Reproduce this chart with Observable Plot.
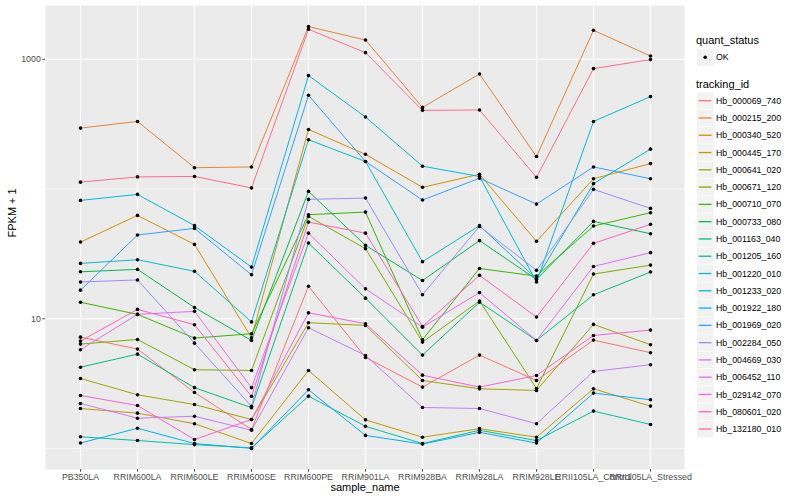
<!DOCTYPE html>
<html><head><meta charset="utf-8">
<script src="https://cdn.jsdelivr.net/npm/d3@7"></script>
<script src="https://cdn.jsdelivr.net/npm/@observablehq/plot@0.6"></script>
<style>
body{margin:0;background:#fff;font-family:"Liberation Sans",Arial,Helvetica,sans-serif;}
#wrap{position:relative;width:800px;height:500px;overflow:hidden;}
#legend{position:absolute;left:0;top:0;pointer-events:none;}
</style></head><body><div id="wrap"></div><script>
const samples = ["PB350LA","RRIM600LA","RRIM600LE","RRIM600SE","RRIM600PE","RRIM901LA","RRIM928BA","RRIM928LA","RRIM928LE","RRII105LA_Control","RRII105LA_Stressed"];
const ids = ["Hb_000069_740","Hb_000215_200","Hb_000340_520","Hb_000445_170","Hb_000641_020","Hb_000671_120","Hb_000710_070","Hb_000733_080","Hb_001163_040","Hb_001205_160","Hb_001220_010","Hb_001233_020","Hb_001922_180","Hb_001969_020","Hb_002284_050","Hb_004669_030","Hb_006452_110","Hb_029142_070","Hb_080601_020","Hb_132180_010"];
const colors = ["#F8766D","#EA8331","#D89000","#C09B00","#A3A500","#7CAE00","#39B600","#00BB4E","#00BF7D","#00C1A3","#00BFC4","#00BAE0","#00B0F6","#35A2FF","#9590FF","#C77CFF","#E76BF3","#FA62DB","#FF62BC","#FF6C91"];
const yTicks = [10, 1000];
const yMinor = [1, 100];
const quantStatus = ["OK"];

// FPKM + 1 per tracking_id, in sample order
const hb_000069_740 = [7.21, 5.83, 2.70, 1.40, 17.8, 5.03, 2.97, 5.24, 3.34, 6.84, 5.47];
const hb_000215_200 = [295, 332, 146, 148, 1788, 1409, 426, 770, 178, 1674, 1061];
const hb_000340_520 = [39.0, 62.6, 37.4, 7.14, 288, 185, 103, 130, 39.5, 120, 157];
const hb_000445_170 = [2.03, 1.87, 1.55, 1.09, 3.99, 1.66, 1.22, 1.42, 1.22, 2.88, 2.12];
const hb_000641_020 = [3.46, 2.59, 2.18, 1.67, 9.31, 8.88, 3.34, 2.88, 2.80, 9.04, 6.30];
const hb_000671_120 = [6.37, 6.92, 4.04, 3.99, 61.5, 34.7, 6.60, 13.7, 2.90, 22.1, 25.9];
const hb_000710_070 = [13.4, 10.8, 7.09, 7.66, 63.4, 66.4, 6.89, 24.4, 21.3, 51.8, 65.7];
const hb_000733_080 = [23.0, 24.0, 12.2, 6.80, 95.9, 36.8, 19.7, 40.0, 20.1, 56.3, 45.2];
const hb_001163_040 = [4.23, 5.33, 2.94, 2.06, 38.3, 14.4, 5.24, 13.4, 6.80, 15.3, 22.9];
const hb_001205_160 = [1.23, 1.15, 1.07, 1.01, 2.53, 1.48, 1.09, 1.38, 1.15, 1.94, 1.53];
const hb_001220_010 = [26.7, 28.5, 23.2, 9.45, 240, 163, 27.5, 52.2, 20.3, 110, 203];
const hb_001233_020 = [81.7, 90.9, 52.2, 25.0, 749, 359, 150, 125, 19.2, 332, 516];
const hb_001922_180 = [1.10, 1.43, 1.09, 1.00, 2.83, 1.26, 1.08, 1.33, 1.10, 2.67, 2.37];
const hb_001969_020 = [16.6, 44.2, 49.7, 21.8, 528, 163, 82.2, 121, 76.5, 148, 120];
const hb_002284_050 = [19.2, 19.9, 6.48, 2.11, 83.2, 85.2, 15.3, 51.5, 23.6, 99.4, 70.9];
const hb_004669_030 = [2.22, 1.71, 1.77, 1.38, 8.52, 5.21, 2.07, 2.03, 1.55, 3.92, 4.42];
const hb_006452_110 = [5.77, 10.8, 11.4, 2.94, 45.7, 17.0, 8.61, 15.9, 6.80, 25.3, 32.3];
const hb_029142_070 = [2.56, 2.14, 1.17, 1.67, 11.1, 9.15, 3.67, 2.97, 3.65, 7.43, 8.17];
const hb_080601_020 = [6.72, 11.8, 8.99, 2.52, 55.6, 45.7, 8.72, 21.6, 10.3, 38.1, 53.4];
const hb_132180_010 = [113, 124, 125, 102, 1704, 1126, 404, 407, 123, 848, 995];

const series = [hb_000069_740, hb_000215_200, hb_000340_520, hb_000445_170, hb_000641_020, hb_000671_120, hb_000710_070, hb_000733_080, hb_001163_040, hb_001205_160, hb_001220_010, hb_001233_020, hb_001922_180, hb_001969_020, hb_002284_050, hb_004669_030, hb_006452_110, hb_029142_070, hb_080601_020, hb_132180_010];

const data = ids.flatMap((id, i) => series[i].map((v, j) => ({id, sample: samples[j], value: v, status: quantStatus[0]})));

// ggplot-like 5% expansion in log space
const ext = d3.extent(data, d => Math.log10(d.value));
const pad = (ext[1] - ext[0]) * 0.05;
const yDomain = [10 ** (ext[0] - pad), 10 ** (ext[1] + pad)];

const font = '"Liberation Sans", Arial, Helvetica, sans-serif';
const chart = Plot.plot({
  width: 800, height: 500,
  marginLeft: 45, marginRight: 116, marginTop: 5, marginBottom: 31,
  style: {fontFamily: font, fontSize: "8.8px", background: "white", overflow: "visible"},
  x: {type: "point", domain: samples, padding: 0.6},
  y: {type: "log", domain: yDomain},
  color: {domain: ids, range: colors},
  marks: [
    Plot.frame({fill: "#EBEBEB", stroke: null}),
    Plot.ruleY(yMinor, {stroke: "white", strokeWidth: 0.55}),
    Plot.ruleY(yTicks, {stroke: "white", strokeWidth: 1.1}),
    Plot.ruleX(samples, {stroke: "white", strokeWidth: 1.1}),
    Plot.line(data, {x: "sample", y: "value", z: "id", stroke: "id", strokeWidth: 1}),
    Plot.dot(data, {x: "sample", y: "value", r: 1.8, fill: "black", stroke: null}),
    Plot.axisY({ticks: yTicks, tickFormat: d => String(d), tickSize: 2.7, tickPadding: 2, color: "#4D4D4D", fontSize: 8.8, label: null}),
    Plot.axisX({tickSize: 2.7, tickPadding: 1.5, color: "#4D4D4D", fontSize: 8.8, label: null}),
    Plot.text(["sample_name"], {frameAnchor: "bottom", dy: 21, fontSize: 11, fill: "black"}),
    Plot.text(["FPKM + 1"], {frameAnchor: "left", dx: -33, rotate: -90, fontSize: 11, fill: "black"})
  ]
});

const wrap = document.getElementById("wrap");
wrap.appendChild(chart);

// legend drawn as an SVG overlay on the right-hand margin
const svg = d3.select(wrap).append("svg")
  .attr("id", "legend").attr("width", 800).attr("height", 500)
  .style("font-family", font);
svg.append("text").attr("x", 696).attr("y", 40).attr("dy", "0.35em")
  .attr("font-size", 11).text("quant_status");
svg.append("rect").attr("x", 697).attr("y", 49).attr("width", 16.5).attr("height", 16.6).attr("fill", "#F2F2F2");
svg.append("circle").attr("cx", 705.2).attr("cy", 57.3).attr("r", 1.8).attr("fill", "black");
svg.append("text").attr("x", 716).attr("y", 57.3).attr("dy", "0.35em")
  .attr("font-size", 8.8).text(quantStatus[0]);
svg.append("text").attr("x", 696).attr("y", 84).attr("dy", "0.35em")
  .attr("font-size", 11).text("tracking_id");
const step = 17.28, c0 = 100.7;
ids.forEach((id, i) => {
  const cy = c0 + step * i;
  svg.append("rect").attr("x", 697).attr("y", cy - 8.3).attr("width", 16.5).attr("height", 16.6).attr("fill", "#F2F2F2");
  svg.append("line").attr("x1", 698.7).attr("x2", 711.5).attr("y1", cy).attr("y2", cy)
    .attr("stroke", colors[i]).attr("stroke-width", 1.3);
  svg.append("text").attr("x", 716).attr("y", cy).attr("dy", "0.35em")
    .attr("font-size", 8.8).text(id);
});
</script></body></html>
